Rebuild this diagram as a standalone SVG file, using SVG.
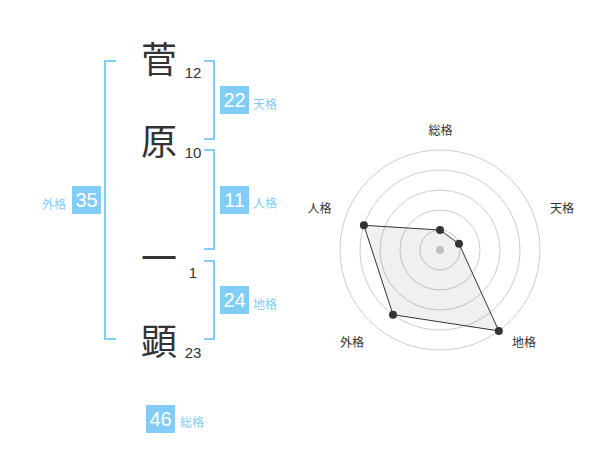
<svg xmlns="http://www.w3.org/2000/svg" width="600" height="470" viewBox="0 0 600 470">
<style>
.bg{fill:#ffffff}
.ch{font-family:"Noto Sans CJK JP","Noto Sans CJK SC",sans-serif;font-size:36px;fill:#333333;text-anchor:middle}
.num{font-family:"Liberation Sans",Arial,sans-serif;font-size:15px;fill:#333333;text-anchor:middle}
.br{fill:none;stroke:#82cdf8;stroke-width:2}
.box{fill:#82cdf8}
.bt{font-family:"Liberation Sans",Arial,sans-serif;font-size:20px;fill:#ffffff;text-anchor:middle}
.lb{font-family:"Noto Sans CJK JP","Noto Sans CJK SC",sans-serif;font-size:12px;fill:#82cdf8}
.ring{fill:none;stroke:#cccccc;stroke-width:1}
.rl{font-family:"Noto Sans CJK JP","Noto Sans CJK SC",sans-serif;font-size:12px;fill:#333333;text-anchor:middle}
.dot{fill:#333333}
</style>
<rect class="bg" x="0" y="0" width="600" height="470"/>
<g id="connectors">
<path class="br" d="M116,61 H105 V339 H116"/>
<path class="br" d="M204,61 H214 V139 H204"/>
<path class="br" d="M204,150 H214 V249 H204"/>
<path class="br" d="M204,261 H214 V339 H204"/>
</g>
<g id="char-1"><text class="ch" x="159" y="73">菅</text><text class="num" x="193" y="78">12</text></g>
<g id="char-2"><text class="ch" x="159" y="155">原</text><text class="num" x="193" y="158">10</text></g>
<g id="char-3"><text class="ch" x="159" y="272">一</text><text class="num" x="193" y="278">1</text></g>
<g id="char-4"><text class="ch" x="159" y="355">顕</text><text class="num" x="193" y="358">23</text></g>
<g id="tenkaku"><rect class="box" x="220" y="86" width="29" height="28"/><text class="bt" x="234.5" y="107">22</text><text class="lb" x="253" y="108.5">天格</text></g>
<g id="jinkaku"><rect class="box" x="220" y="186" width="29" height="28"/><text class="bt" x="234.5" y="207">11</text><text class="lb" x="253" y="208">人格</text></g>
<g id="gaikaku"><rect class="box" x="72" y="186" width="29" height="28"/><text class="bt" x="86.5" y="207">35</text><text class="lb" x="66" y="208.5" text-anchor="end">外格</text></g>
<g id="chikaku"><rect class="box" x="220" y="286" width="29" height="28"/><text class="bt" x="234.5" y="307">24</text><text class="lb" x="253" y="308.5">地格</text></g>
<g id="soukaku"><rect class="box" x="146" y="405" width="29" height="28"/><text class="bt" x="160.5" y="426">46</text><text class="lb" x="180" y="427">総格</text></g>
<g id="radar">
<circle class="ring" cx="440" cy="250" r="20"/>
<circle class="ring" cx="440" cy="250" r="40"/>
<circle class="ring" cx="440" cy="250" r="60"/>
<circle class="ring" cx="440" cy="250" r="80"/>
<circle class="ring" cx="440" cy="250" r="100"/>
<circle cx="440" cy="250" r="4" fill="#cccccc"/>
<polygon points="440,230 459,243.8 498.8,330.9 393,314.7 363.9,225.3" fill="#000000" fill-opacity="0.06" stroke="#333333" stroke-width="1"/>
<circle class="dot" cx="440" cy="230" r="4"/>
<circle class="dot" cx="459" cy="243.8" r="4"/>
<circle class="dot" cx="498.8" cy="330.9" r="4"/>
<circle class="dot" cx="393" cy="314.7" r="4"/>
<circle class="dot" cx="363.9" cy="225.3" r="4"/>
<text class="rl" x="440.5" y="135">総格</text>
<text class="rl" x="562" y="213">天格</text>
<text class="rl" x="319.5" y="213">人格</text>
<text class="rl" x="352" y="347">外格</text>
<text class="rl" x="524" y="347">地格</text>
</g>
</svg>
